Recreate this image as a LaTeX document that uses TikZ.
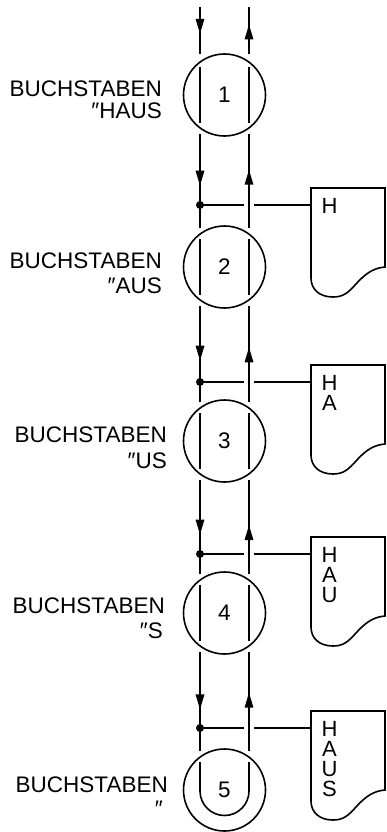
\documentclass[tikz,border=0pt]{standalone}
\usepackage{fontspec}
\setmainfont{Liberation Sans}
\usetikzlibrary{arrows.meta,calc,decorations.markings}

\begin{document}
\begin{tikzpicture}[
      x=1pt, y=-1pt,
      every node/.style={font=\fontsize{22.5}{24}\selectfont, inner sep=0pt},
      wire/.style={line width=1.6pt},
      stage/.style={circle, draw, line width=1.6pt, minimum size=82pt},
      junction/.style={circle, fill, minimum size=8pt},
      lettering/.style={anchor=base east},
      letters/.style={anchor=north, align=center, font=\fontsize{22}{20}\selectfont},
      arrowat/.style={postaction={decorate, decoration={markings,
        mark=at position #1 with {\arrow{Triangle[length=15pt,width=8.5pt]}}}}},
      hop/.style={preaction={draw=white, line width=10pt}},
      doc/.pic={
        \draw[wire] (0,0) -- (74,0) -- (74,79)
          .. controls (62,80) and (54,86) .. (45,96)
          .. controls (37,105) and (32,109) .. (22,109)
          .. controls (8,109) and (0,101) .. (0,90) -- cycle;
        \coordinate (-in) at (0,17);
        \node[letters] (-txt) at (18.5,10) {#1};
      }
    ]
    \useasboundingbox (0,0) rectangle (386,832);

    % Stages
    \node[stage] (s1) at (224.5,95) {1};
    \node[stage] (s2) at (224.5,267) {2};
    \node[stage] (s3) at (224.5,441) {3};
    \node[stage] (s4) at (224.5,613) {4};
    \node[stage] (s5) at (224.5,790) {5};

    % Labels
    \node[lettering] (t1) at (162,97) {BUCHSTABEN};
    \node[lettering] (u1) at ($(t1.base east)+(0,21)$) {″HAUS};
    \node[lettering] (t2) at (162,268) {BUCHSTABEN};
    \node[lettering] (u2) at ($(t2.base east)+(0,25)$) {″AUS};
    \node[lettering] (t3) at (167,442) {BUCHSTABEN};
    \node[lettering] (u3) at ($(t3.base east)+(0,26)$) {″US};
    \node[lettering] (t4) at (165,613) {BUCHSTABEN};
    \node[lettering] (u4) at ($(t4.base east)+(-2,25)$) {″S};
    \node[lettering] (t5) at (168,792) {BUCHSTABEN};
    \node[lettering] (u5) at ($(t5.base east)+(-5,24)$) {″};

    % Junctions and documents
    \node[junction] (j1) at (200,205) {};
    \node[junction] (j2) at (200,382) {};
    \node[junction] (j3) at (200,554) {};
    \node[junction] (j4) at (200,728) {};
    \pic (d1) at (311,188) {doc={H}};
    \pic (d2) at (311,365) {doc={H\\A}};
    \pic (d3) at (311,537) {doc={H\\A\\U}};
    \pic (d4) at (311,711) {doc={H\\A\\U\\S}};
    \draw[wire] (j1.center) -- (d1-in);
    \draw[wire] (j2.center) -- (d2-in);
    \draw[wire] (j3.center) -- (d3-in);
    \draw[wire] (j4.center) -- (d4-in);

    % Inner bars
    \draw[wire] ($(s1)+(-24.5,-28)$) -- ($(s1)+(-24.5,28)$);
    \draw[wire] ($(s1)+(24.5,-28)$) -- ($(s1)+(24.5,28)$);
    \draw[wire] ($(s2)+(-24.5,-28)$) -- ($(s2)+(-24.5,28)$);
    \draw[wire] ($(s2)+(24.5,-28)$) -- ($(s2)+(24.5,28)$);
    \draw[wire] ($(s3)+(-24.5,-28)$) -- ($(s3)+(-24.5,28)$);
    \draw[wire] ($(s3)+(24.5,-28)$) -- ($(s3)+(24.5,28)$);
    \draw[wire] ($(s4)+(-24.5,-28)$) -- ($(s4)+(-24.5,28)$);
    \draw[wire] ($(s4)+(24.5,-28)$) -- ($(s4)+(24.5,28)$);
    \draw[wire] ($(s5)+(-24.5,-28)$) -- ($(s5)+(-24.5,1)$)
      .. controls ($(s5)+(-24.5,14.5)$) and ($(s5)+(-13.5,25.5)$) .. ($(s5)+(0,25.5)$)
      .. controls ($(s5)+(13.5,25.5)$) and ($(s5)+(24.5,14.5)$) .. ($(s5)+(24.5,1)$)
      -- ($(s5)+(24.5,-28)$);

    % Flow down (left) and back up (right)
    \coordinate (in) at (200,7);
    \coordinate (out) at (249,7);
    \draw[wire, arrowat=0.57] (in) -- ($(s1)+(-24.5,-41)$);
    \draw[wire, arrowat=0.63] ($(s1)+(24.5,-41)$) -- (out);
    \draw[wire, arrowat=0.55] ($(s1)+(-24.5,39)$) -- (j1.center) -- ($(s2)+(-24.5,-39)$);
    \draw[wire, hop, arrowat=0.62] ($(s2)+(24.5,-39)$) -- ($(s1)+(24.5,39)$);
    \draw[wire, arrowat=0.57] ($(s2)+(-24.5,39)$) -- (j2.center) -- ($(s3)+(-24.5,-39)$);
    \draw[wire, hop, arrowat=0.57] ($(s3)+(24.5,-39)$) -- ($(s2)+(24.5,39)$);
    \draw[wire, arrowat=0.58] ($(s3)+(-24.5,39)$) -- (j3.center) -- ($(s4)+(-24.5,-39)$);
    \draw[wire, hop, arrowat=0.52] ($(s4)+(24.5,-39)$) -- ($(s3)+(24.5,39)$);
    \draw[wire, arrowat=0.58] ($(s4)+(-24.5,39)$) -- (j4.center) -- ($(s5)+(-24.5,-39)$);
    \draw[wire, hop, arrowat=0.59] ($(s5)+(24.5,-39)$) -- ($(s4)+(24.5,39)$);

\end{tikzpicture}
\end{document}
